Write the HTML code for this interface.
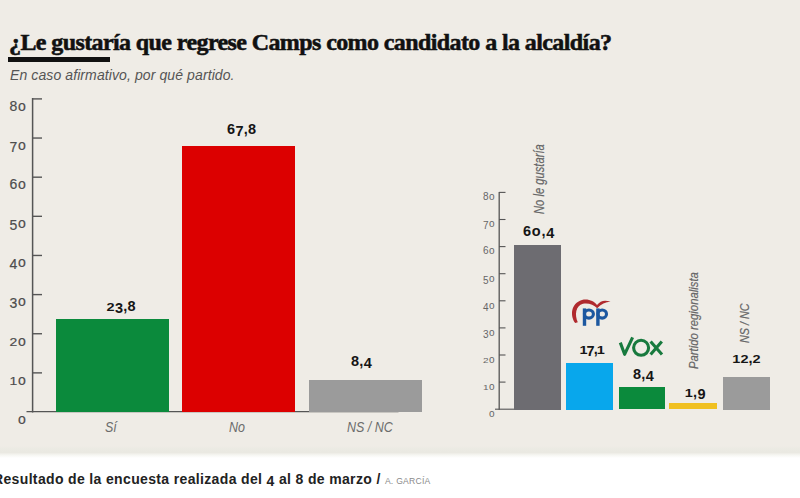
<!DOCTYPE html>
<html><head><meta charset="utf-8">
<style>
html,body{margin:0;padding:0;}
body{width:800px;height:498px;position:relative;overflow:hidden;background:#efece6;font-family:"Liberation Sans",sans-serif;}
.a{position:absolute;white-space:nowrap;line-height:1;}
.yl{font-size:14px;color:#4d4d4d;text-align:right;letter-spacing:0.6px;-webkit-text-stroke:0.2px #4d4d4d;}
.yr{font-size:10px;color:#666;text-align:right;letter-spacing:0.5px;}
.val{font-weight:bold;color:#151515;font-size:14.5px;letter-spacing:0.3px;}
.cat{font-style:italic;color:#6c6c6c;font-size:14.5px;transform-origin:0 0;transform:scaleX(0.86);}
.ox{display:inline-block;transform:scaleY(0.74);transform-origin:50% 84.65%;}
.od{display:inline-block;transform:translateY(0.15em);}
.rot{transform-origin:0 0;font-style:italic;color:#666;-webkit-text-stroke:0.2px #666;}
</style></head><body>

<div class="a" id="title" style="left:9px;top:29.90px;font-family:'Liberation Serif',serif;font-weight:bold;font-size:24px;color:#111;letter-spacing:-0.6px;-webkit-text-stroke:0.55px #111;">¿Le gustaría que regrese Camps como candidato a la alcaldía?</div>
<div class="a" id="ubar" style="left:8px;top:57px;width:102px;height:5px;background:#111;"></div>
<div class="a" id="sub" style="left:10px;top:68.25px;font-style:italic;font-size:14px;color:#555;letter-spacing:0.1px;">En caso afirmativo, por qué partido.</div>
<svg class="a" style="left:0;top:0;" width="800" height="498" viewBox="0 0 800 498">
<g stroke="#555" fill="none">
<line x1="32.6" y1="97.90" x2="32.6" y2="412.42" stroke-width="1.5"/>
<line x1="26.5" y1="411.72" x2="398.5" y2="411.72" stroke-width="1.3"/>
<line x1="32" y1="98.90" x2="42" y2="98.90" stroke-width="1.4"/>
<line x1="32" y1="138.04" x2="42" y2="138.04" stroke-width="1.4"/>
<line x1="32" y1="177.18" x2="42" y2="177.18" stroke-width="1.4"/>
<line x1="32" y1="216.32" x2="42" y2="216.32" stroke-width="1.4"/>
<line x1="32" y1="255.46" x2="42" y2="255.46" stroke-width="1.4"/>
<line x1="32" y1="294.60" x2="42" y2="294.60" stroke-width="1.4"/>
<line x1="32" y1="333.74" x2="42" y2="333.74" stroke-width="1.4"/>
<line x1="32" y1="372.88" x2="42" y2="372.88" stroke-width="1.4"/>
</g>
<g stroke="#555" fill="none">
<line x1="499.2" y1="191.90" x2="499.2" y2="409.70" stroke-width="1.3"/>
<line x1="495" y1="409.20" x2="514" y2="409.20" stroke-width="1.1"/>
<line x1="499" y1="192.40" x2="505.5" y2="192.40" stroke-width="1.1"/>
<line x1="499" y1="219.50" x2="505.5" y2="219.50" stroke-width="1.1"/>
<line x1="499" y1="246.60" x2="505.5" y2="246.60" stroke-width="1.1"/>
<line x1="499" y1="273.70" x2="505.5" y2="273.70" stroke-width="1.1"/>
<line x1="499" y1="300.80" x2="505.5" y2="300.80" stroke-width="1.1"/>
<line x1="499" y1="327.90" x2="505.5" y2="327.90" stroke-width="1.1"/>
<line x1="499" y1="355.00" x2="505.5" y2="355.00" stroke-width="1.1"/>
<line x1="499" y1="382.10" x2="505.5" y2="382.10" stroke-width="1.1"/>
</g>
</svg>
<div class="a yl" style="left:0;width:26.3px;top:98.75px;">8o</div>
<div class="a yl" style="left:0;width:26.3px;top:137.89px;"><span class="od">7</span>o</div>
<div class="a yl" style="left:0;width:26.3px;top:177.03px;">6o</div>
<div class="a yl" style="left:0;width:26.3px;top:216.17px;"><span class="od">5</span>o</div>
<div class="a yl" style="left:0;width:26.3px;top:255.31px;"><span class="od">4</span>o</div>
<div class="a yl" style="left:0;width:26.3px;top:294.45px;"><span class="od">3</span>o</div>
<div class="a yl" style="left:0;width:26.3px;top:333.59px;"><span class="ox">2</span>o</div>
<div class="a yl" style="left:0;width:26.3px;top:372.73px;"><span class="ox">1</span>o</div>
<div class="a yl" style="left:0;width:26.3px;top:411.87px;">o</div>
<div class="a" style="left:56px;top:319px;width:113px;height:93.22px;background:#0b8a3c;"></div>
<div class="a" style="left:182px;top:146px;width:113px;height:266.22px;background:#dc0000;"></div>
<div class="a" style="left:308.5px;top:379.6px;width:113px;height:32.62px;background:#9b9b9b;"></div>
<div class="a val" id="v1" style="left:106.5px;top:298.53px;"><span class="ox">2</span><span class="od">3</span>,8</div>
<div class="a val" id="v2" style="left:227px;top:122.03px;">6<span class="od">7</span>,8</div>
<div class="a val" id="v3" style="left:351px;top:354.33px;">8,<span class="od">4</span></div>
<div class="a cat" id="c1" style="left:105px;top:420.13px;">Sí</div>
<div class="a cat" id="c2" style="left:229px;top:420.13px;">No</div>
<div class="a cat" id="c3" style="left:347px;top:420.13px;">NS / NC</div>
<div class="a yr" style="left:470px;width:25px;top:192.24px;">8o</div>
<div class="a yr" style="left:470px;width:25px;top:219.34px;"><span class="od">7</span>o</div>
<div class="a yr" style="left:470px;width:25px;top:246.44px;">6o</div>
<div class="a yr" style="left:470px;width:25px;top:273.54px;"><span class="od">5</span>o</div>
<div class="a yr" style="left:470px;width:25px;top:300.64px;"><span class="od">4</span>o</div>
<div class="a yr" style="left:470px;width:25px;top:327.74px;"><span class="od">3</span>o</div>
<div class="a yr" style="left:470px;width:25px;top:354.84px;"><span class="ox">2</span>o</div>
<div class="a yr" style="left:470px;width:25px;top:381.94px;"><span class="ox">1</span>o</div>
<div class="a yr" style="left:470px;width:25px;top:409.04px;">o</div>
<div class="a" style="left:513.5px;top:245px;width:47.00px;height:164.50px;background:#6d6c71;"></div>
<div class="a" style="left:566px;top:363px;width:47.00px;height:46.50px;background:#08a7ec;"></div>
<div class="a" style="left:619px;top:386.7px;width:46.00px;height:22.80px;background:#0b8a3c;"></div>
<div class="a" style="left:669.3px;top:402.7px;width:48.20px;height:6.80px;background:#f0c020;"></div>
<div class="a" style="left:722.7px;top:376.5px;width:46.90px;height:33.00px;background:#9b9b9b;"></div>
<div class="a val" id="r1" style="left:523px;top:224.03px;letter-spacing:0.8px;">6o,<span class="od">4</span></div>
<div class="a val" id="r2" style="left:579.5px;top:342.33px;letter-spacing:-1.0px;"><span class="ox">1</span><span class="od">7</span>,<span class="ox">1</span></div>
<div class="a val" id="r3" style="left:633px;top:366.93px;letter-spacing:0.3px;">8,<span class="od">4</span></div>
<div class="a val" id="r4" style="left:684.7px;top:385.33px;letter-spacing:0.3px;"><span class="ox">1</span>,<span class="od">9</span></div>
<div class="a val" id="r5" style="left:732.3px;top:350.53px;letter-spacing:0px;"><span class="ox">1</span><span class="ox">2</span>,<span class="ox">2</span></div>
<div class="a rot" id="rot1" style="left:532.2px;top:213.5px;font-size:14px;transform:rotate(-90deg) scaleX(0.8);">No le gustaría</div>
<div class="a rot" id="rot2" style="left:687.3px;top:368.7px;font-size:13px;transform:rotate(-90deg) scaleX(0.87);">Partido regionalista</div>
<div class="a rot" id="rot3" style="left:737.6px;top:343px;font-size:13.5px;transform:rotate(-90deg) scaleX(0.8);">NS / NC</div>
<svg class="a" style="left:0;top:0;" width="800" height="498" viewBox="0 0 800 498">
<path d="M575.2,323 C570,316 570.5,303.5 582,300 C588.5,298.6 594,301.3 597,305 C600.5,300.5 605,299.6 610.5,301.8 C605.5,302 601,304 597.2,308.2 C593.5,304.3 588.5,302.9 583,303.7 C575.5,305.5 574.5,315 577.8,322.2 Z" fill="#b02a2e"/>
<g fill="#1d58a0"><rect x="582.8" y="308.4" width="3.4" height="17.4"/><rect x="596.2" y="308.4" width="3.4" height="17.4"/></g>
<g fill="none" stroke="#1d58a0" stroke-width="3.1"><ellipse cx="588.9" cy="314.1" rx="4.5" ry="4.05"/><ellipse cx="602.2" cy="314.1" rx="4.3" ry="4.05"/></g>
<g fill="none" stroke="#187a3e" stroke-width="3.1" stroke-linejoin="round">
<path d="M620.3,342.6 L624.6,354.3 L632.6,337.4"/>
<ellipse cx="641.1" cy="347.8" rx="7.5" ry="7.5"/>
<path d="M650.6,341.6 L662,354.6 M661.8,341.6 L650.6,354.6"/>
</g>
</svg>
<div class="a" style="left:0;top:446px;width:800px;height:52px;background:linear-gradient(to bottom,#efece6 0px,#ebeae3 3px,#eae9e2 6.5px,#f6f6f2 9px,#fff 12px,#fff 52px);"></div>
<div class="a" id="ftxt" style="left:-7px;top:471.85px;font-weight:bold;font-size:14px;color:#222;letter-spacing:0.35px;">Resultado de la encuesta realizada del <span class="od">4</span> al 8 de marzo / <span style="font-weight:normal;font-size:8.6px;color:#8a8a8a;letter-spacing:0.25px;">A. GARCÍA</span></div>
</body></html>
